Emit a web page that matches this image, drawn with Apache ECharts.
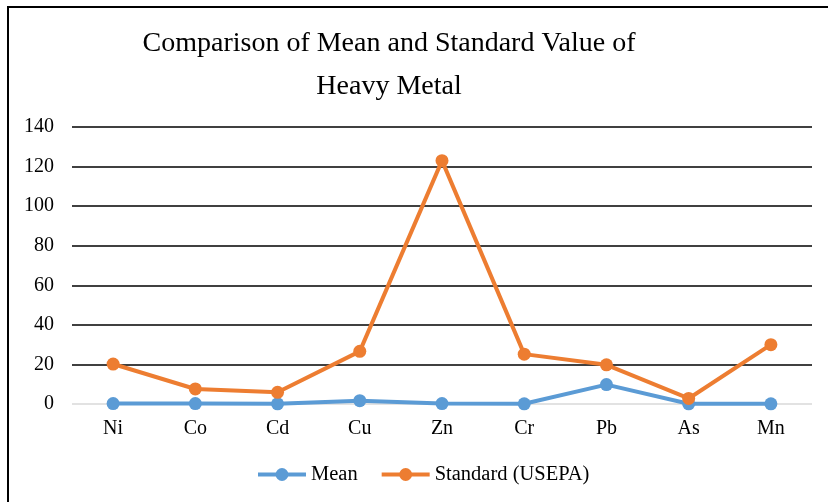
<!DOCTYPE html>
<html>
<head>
<meta charset="utf-8">
<script src="https://cdn.jsdelivr.net/npm/echarts@6/dist/echarts.min.js"></script>
<style>
html,body{margin:0;padding:0;background:#fff;}
#chart{width:828px;height:502px;}
</style>
</head>
<body>
<div id="chart"></div>
<script>
var categories = ['Ni','Co','Cd','Cu','Zn','Cr','Pb','As','Mn'];
var meanValues = [0.2, 0.2, 0.1, 1.7, 0.2, 0.1, 9.8, 0.1, 0.1];
var standardValues = [20.2, 7.6, 5.9, 26.6, 123, 25.2, 19.8, 2.8, 30];
var yTicks = [0, 20, 40, 60, 80, 100, 120, 140];

var FONT = '"Liberation Serif", "Times New Roman", serif';
var chart = echarts.init(document.getElementById('chart'));
chart.setOption({
  animation: false,
  backgroundColor: '#fff',
  title: {
    text: 'Comparison of Mean and Standard Value of\nHeavy Metal',
    left: 384, top: 17, textAlign: 'center',
    textStyle: { fontFamily: FONT, fontSize: 28, fontWeight: 'normal', color: '#000', lineHeight: 43 }
  },
  graphic: [{
    type: 'rect', shape: { x: 8, y: 7, width: 840, height: 520 },
    style: { fill: 'none', stroke: '#000', lineWidth: 2 }, silent: true
  }],
  legend: {
    bottom: 12, left: 251,
    itemWidth: 48, itemHeight: 16, itemGap: 22,
    lineStyle: { width: 4 },
    textStyle: { fontFamily: FONT, fontSize: 20.5, color: '#000' },
    data: ['Mean', 'Standard (USEPA)']
  },
  grid: { left: 72, right: 16, top: 127, bottom: 98 },
  xAxis: {
    type: 'category', data: categories, boundaryGap: true,
    axisLine: { show: false }, axisTick: { show: false },
    axisLabel: { fontFamily: FONT, fontSize: 20, color: '#000', margin: 15 }
  },
  yAxis: {
    type: 'value', min: yTicks[0], max: yTicks[yTicks.length - 1], interval: 20,
    axisLine: { show: false }, axisTick: { show: false },
    axisLabel: { fontFamily: FONT, fontSize: 20, color: '#000', margin: 18 },
    splitLine: { lineStyle: { color: ['#d9d9d9','#000','#000','#000','#000','#000','#000','#000'], width: 1.5 } }
  },
  series: [
    {
      name: 'Mean', type: 'line', data: meanValues,
      symbol: 'circle', symbolSize: 13,
      lineStyle: { color: '#5b9bd5', width: 4 },
      itemStyle: { color: '#5b9bd5' }
    },
    {
      name: 'Standard (USEPA)', type: 'line', data: standardValues,
      symbol: 'circle', symbolSize: 13,
      lineStyle: { color: '#ed7d31', width: 4 },
      itemStyle: { color: '#ed7d31' }
    }
  ]
});
</script>
</body>
</html>
